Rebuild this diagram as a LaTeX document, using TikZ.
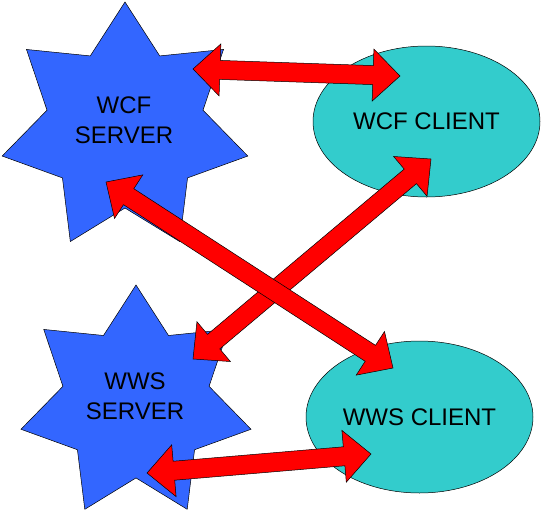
\documentclass[tikz,border=0pt]{standalone}
\usepackage{fontspec}
\setmainfont{Liberation Sans}
\usetikzlibrary{shapes.geometric,calc}
\definecolor{starblue}{RGB}{51,102,255}
\definecolor{cliteal}{RGB}{51,204,204}
\definecolor{arrred}{RGB}{255,0,0}
\newcommand\blockarrow[2]{%
  \filldraw[blockarr] (#1)
    -- ($(#1)!27pt!(#2)!26pt!90:(#2)$)
    -- ($(#1)!27pt!(#2)!9.5pt!90:(#2)$)
    -- ($(#2)!27pt!(#1)!9.5pt!-90:(#1)$)
    -- ($(#2)!27pt!(#1)!26pt!-90:(#1)$)
    -- (#2)
    -- ($(#2)!27pt!(#1)!26pt!90:(#1)$)
    -- ($(#2)!27pt!(#1)!9.5pt!90:(#1)$)
    -- ($(#1)!27pt!(#2)!9.5pt!-90:(#2)$)
    -- ($(#1)!27pt!(#2)!26pt!-90:(#2)$)
    -- cycle;}
\begin{document}
\begin{tikzpicture}[x=1pt,y=-1pt,
  srvstar/.style={star, star points=7, star point ratio=1.575, draw=black,
    line width=0.5pt, fill=starblue, inner sep=0pt},
  client/.style={ellipse, draw=black, line width=0.5pt, fill=cliteal,
    inner sep=0pt, font=\fontsize{24}{29}\selectfont},
  lbl/.style={align=center, inner sep=0pt, font=\fontsize{24}{30}\selectfont},
  blockarr/.style={fill=arrred, draw=black, line width=0.5pt, line join=miter}]
\useasboundingbox (0,0) rectangle (541,512);
% shapes
\node[srvstar, minimum size=252pt] (wcfs) at (125,128) {};
\node[srvstar, minimum size=236pt] (wwss) at (136,403) {};
\node[client, minimum width=227pt, minimum height=151pt] (wcfc) at (426.5,121.5) {WCF CLIENT};
\node[client, minimum width=227pt, minimum height=152pt] (wwsc) at (419.5,417) {WWS CLIENT};
\node[lbl] (wcfst) at (124,120) {WCF\\SERVER};
\node[lbl] (wwsst) at (135,396) {WWS\\SERVER};
% arrow end points
\coordinate (a1s) at (193,69);
\coordinate (a1c) at (400,76);
\coordinate (a2s) at (106,182);
\coordinate (a2c) at (393,368);
\coordinate (a3c) at (431,159);
\coordinate (a3s) at (193,359);
\coordinate (a4s) at (147,473);
\coordinate (a4c) at (371,454);
% arrows
\blockarrow{a1s}{a1c}
\blockarrow{a4s}{a4c}
\blockarrow{a3c}{a3s}
\blockarrow{a2s}{a2c}
\end{tikzpicture}
\end{document}
